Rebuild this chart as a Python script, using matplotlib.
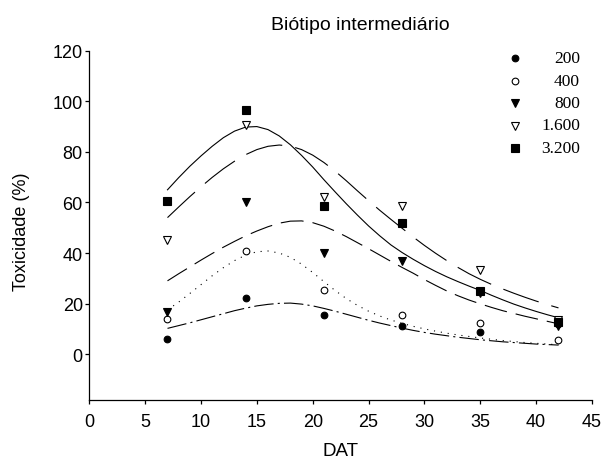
import matplotlib
matplotlib.use('Agg')
import matplotlib.pyplot as plt
from matplotlib.lines import Line2D

plt.rcParams['font.family'] = ['Liberation Sans', 'DejaVu Sans']
plt.rcParams['lines.scale_dashes'] = False

# observed data
dat = [7, 14, 21, 28, 35, 42]
doses = ['200', '400', '800', '1.600', '3.200']
obs_200 = [6.0, 22.1, 15.5, 11.2, 8.9, 11.8]
obs_400 = [14.0, 40.7, 25.5, 15.5, 12.4, 5.5]
obs_800 = [16.8, 60.3, 40.0, 36.7, 24.3, 11.0]
obs_1600 = [45.2, 90.6, 62.0, 58.5, 33.3, 13.5]
obs_3200 = [60.5, 96.5, 58.5, 51.8, 25.0, 12.8]

# fitted curves at DAT = 7..42
fit_x = [7, 8, 9, 10, 11, 12, 13, 14, 15, 16, 17, 18, 19, 20, 21, 22, 23, 24,
         25, 26, 27, 28, 29, 30, 31, 32, 33, 34, 35, 36, 37, 38, 39, 40, 41, 42]
fit_200 = [10.2, 11.3, 12.4, 13.6, 14.8, 16.0, 17.2, 18.2, 19.1, 19.7, 20.1, 20.2,
           19.8, 19.1, 18.1, 17.0, 15.8, 14.6, 13.4, 12.3, 11.3, 10.3, 9.4, 8.6,
           7.9, 7.3, 6.7, 6.2, 5.7, 5.3, 4.9, 4.6, 4.3, 4.0, 3.8, 3.6]
fit_400 = [17.5, 20.6, 24.0, 27.5, 31.0, 34.2, 37.0, 39.2, 40.5, 40.8, 40.0, 38.3,
           35.6, 32.3, 28.7, 25.2, 22.0, 19.3, 17.0, 15.1, 13.5, 12.2, 11.0, 10.0,
           9.1, 8.3, 7.6, 7.0, 6.4, 5.9, 5.4, 5.0, 4.6, 4.3, 4.0, 3.7]
fit_800 = [29.0, 31.8, 34.5, 37.2, 39.8, 42.3, 44.6, 46.8, 48.7, 50.4, 51.8, 52.6,
           52.7, 52.0, 50.6, 48.7, 46.5, 44.1, 41.7, 39.2, 36.7, 34.3, 32.0, 29.5,
           27.2, 25.0, 23.1, 21.4, 19.9, 18.5, 17.2, 16.1, 15.0, 14.0, 13.0, 12.0]
fit_1600 = [54.0, 58.2, 62.3, 66.2, 69.9, 73.3, 76.3, 78.9, 80.9, 82.2, 82.7, 82.3,
            80.9, 78.7, 75.8, 72.4, 68.6, 64.6, 60.7, 56.9, 53.3, 49.8, 46.3, 43.0,
            39.9, 37.0, 34.3, 31.8, 29.6, 27.6, 25.8, 24.1, 22.5, 21.0, 19.6, 18.3]
fit_3200 = [65.0, 69.8, 74.3, 78.4, 82.2, 85.6, 88.2, 89.8, 90.0, 88.8, 86.3, 82.8,
            78.6, 74.0, 69.0, 64.2, 59.5, 55.0, 50.7, 46.8, 43.2, 40.2, 37.5, 35.0,
            32.7, 30.6, 28.7, 26.9, 25.2, 23.3, 21.5, 19.8, 18.3, 16.9, 15.6, 14.4]

x_ticks = [0, 5, 10, 15, 20, 25, 30, 35, 40, 45]
y_ticks = [0, 20, 40, 60, 80, 100, 120]

W, H = 606, 460
fig = plt.figure(figsize=(W / 100, H / 100), dpi=100)
ax = fig.add_axes([89.3 / W, 1 - 400.7 / H, (592 - 89.3) / W, (400.7 - 51.7) / H])

obs = [obs_200, obs_400, obs_800, obs_1600, obs_3200]
fits = [fit_200, fit_400, fit_800, fit_1600, fit_3200]
styles = [
    dict(marker='o', ms=4.8, mfc='black', mec='black'),
    dict(marker='o', ms=4.8, mfc='white', mec='black'),
    dict(marker='v', ms=6.4, mfc='black', mec='black'),
    dict(marker='v', ms=6.4, mfc='white', mec='black'),
    dict(marker='s', ms=5.3, mfc='black', mec='black'),
]
linestyles = [(0, (14, 3, 1.5, 3)), (0, (0.8, 4.2)), (0, (16.5, 6.5)),
              (0, (27, 9.5)), '-']

for f, lsty in zip(fits, linestyles):
    ax.plot(fit_x, f, color='black', lw=0.8, ls=lsty)
for o, st in zip(obs, styles):
    ax.plot(dat, o, ls='none', mew=0.8, zorder=3, **st)

ax.set_xlim(0, 45)
ax.set_ylim(-18, 120)
ax.set_xticks(x_ticks)
ax.set_yticks(y_ticks)
for s in ['top', 'right']:
    ax.spines[s].set_visible(False)
for s in ['left', 'bottom']:
    ax.spines[s].set_linewidth(0.9)
ax.tick_params(axis='x', direction='out', length=3.2, width=0.9, pad=6.5, labelsize=13)
ax.tick_params(axis='y', direction='out', length=3.2, width=0.9, pad=1.5, labelsize=13)

fig.text(360 / W, 1 - 26 / H, 'Biótipo intermediário', ha='center', va='center', fontsize=14)
fig.text(340 / W, 1 - 451.5 / H, 'DAT', ha='center', va='center', fontsize=13.5)
fig.text(22 / W, 1 - 232 / H, 'Toxicidade (%)', ha='center', va='center',
         rotation=90, fontsize=13)

# legend
for i, (lab, st) in enumerate(zip(doses, styles)):
    yp = 1 - (59.3 + 22.4 * i) / H
    fig.add_artist(Line2D([515 / W], [yp], transform=fig.transFigure, ls='none',
                          mew=0.8, **st))
    fig.text(580 / W, yp, lab, ha='right', va='center', fontsize=12.5,
             family=['Liberation Serif', 'DejaVu Serif'])

fig.savefig('out.png', dpi=100)
